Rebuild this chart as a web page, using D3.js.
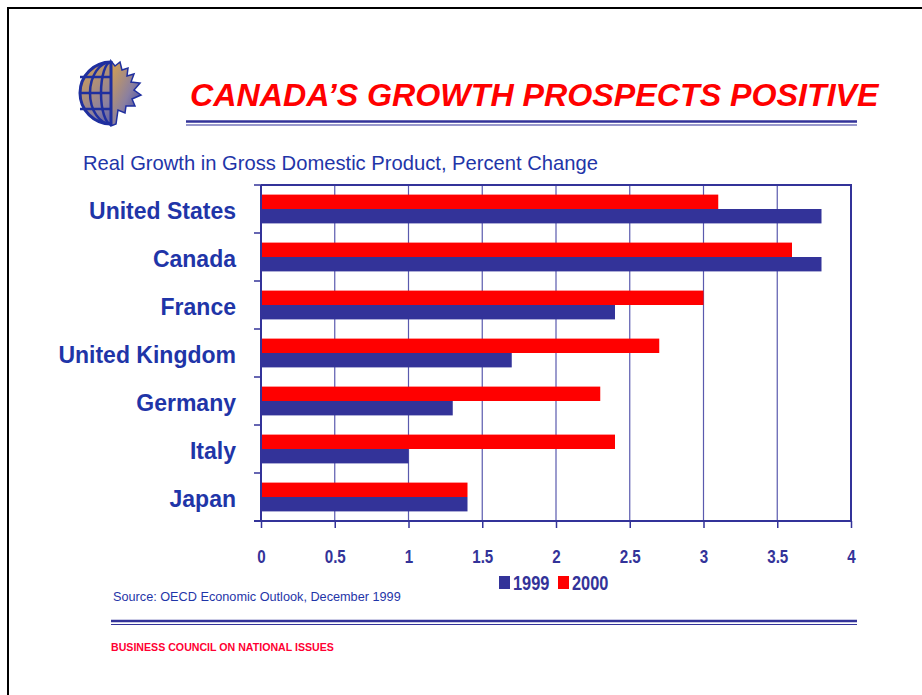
<!DOCTYPE html>
<html>
<head>
<meta charset="utf-8">
<script src="https://cdn.jsdelivr.net/npm/d3@7"></script>
<style>
  html, body { margin: 0; padding: 0; background: #fff; }
  svg { display: block; }
</style>
</head>
<body>
<svg id="chart" width="922" height="695"></svg>
<script>
// Real GDP growth, percent change
const countries = ["United States", "Canada", "France", "United Kingdom", "Germany", "Italy", "Japan"];
const growth1999 = [3.8, 3.8, 2.4, 1.7, 1.3, 1.0, 1.4];
const growth2000 = [3.1, 3.6, 3.0, 2.7, 2.3, 2.4, 1.4];
const seriesNames = ["1999", "2000"];
const xTicks = [0, 0.5, 1, 1.5, 2, 2.5, 3, 3.5, 4];

const BLUE = "#333399";
const RED = "#ff0000";
const TEXT_BLUE = "#1f35a8";
const SANS = "'Liberation Sans', Arial, Helvetica, sans-serif";
const NARROW_SCALE = "scale(0.82,1)"; // condensed look for axis and legend text

const svg = d3.select("#chart");

// Slide frame
svg.append("path")
  .attr("d", "M8,700 L8,8 L930,8")
  .attr("fill", "none").attr("stroke", "#000").attr("stroke-width", 2);

// ---- Logo: globe with half maple leaf ----
const defs = svg.append("defs");
const grad = defs.append("linearGradient").attr("id", "logoGrad")
  .attr("x1", "0").attr("y1", "0").attr("x2", "1").attr("y2", "1");
grad.append("stop").attr("offset", "0%").attr("stop-color", "#d9a24a");
grad.append("stop").attr("offset", "55%").attr("stop-color", "#8a7fa0");
grad.append("stop").attr("offset", "100%").attr("stop-color", "#2b3aa8");

const logo = svg.append("g").attr("transform", "translate(111,93)");
defs.append("clipPath").attr("id", "leftHalf")
  .append("rect").attr("x", -40).attr("y", -40).attr("width", 40).attr("height", 80);
// maple leaf half (right side)
logo.append("path")
  .attr("d", "M0,-32 L4,-27 L9,-31 L11,-23 L17,-25 L16,-17 L23,-19 L20,-11 L29,-10 L23,-3 L30,2 L21,6 L24,13 L15,13 L14,20 L7,17 L5,31 L0,33 Z")
  .attr("fill", "url(#logoGrad)").attr("stroke", "#1f2f9f").attr("stroke-width", 1.5);
// globe left half
const globe = logo.append("g").attr("clip-path", "url(#leftHalf)");
globe.append("circle").attr("r", 31).attr("fill", "url(#logoGrad)")
  .attr("stroke", "#1f2f9f").attr("stroke-width", 3);
[10, 21].forEach(rx => globe.append("ellipse").attr("rx", rx).attr("ry", 31)
  .attr("fill", "none").attr("stroke", "#1f2f9f").attr("stroke-width", 2.5));
[-16, 0, 16].forEach(yy => globe.append("line")
  .attr("x1", -31).attr("x2", 0).attr("y1", yy).attr("y2", yy)
  .attr("stroke", "#1f2f9f").attr("stroke-width", 2.5));
logo.append("line").attr("x1", 0).attr("x2", 0).attr("y1", -32).attr("y2", 33)
  .attr("stroke", "#1f2f9f").attr("stroke-width", 3);

// ---- Title ----
svg.append("text")
  .attr("x", 190).attr("y", 106)
  .attr("font-family", SANS).attr("font-size", 32.2)
  .attr("font-weight", "bold").attr("font-style", "italic")
  .attr("fill", RED)
  .text("CANADA\u2019S GROWTH PROSPECTS POSITIVE");

// double rule under title and above footer
function doubleRule(x1, x2, yy) {
  svg.append("line").attr("x1", x1).attr("x2", x2).attr("y1", yy).attr("y2", yy)
    .attr("stroke", BLUE).attr("stroke-width", 2.5);
  svg.append("line").attr("x1", x1).attr("x2", x2).attr("y1", yy + 3.5).attr("y2", yy + 3.5)
    .attr("stroke", BLUE).attr("stroke-width", 1);
}
doubleRule(186, 857, 121.5);
doubleRule(111, 857, 621);

// subtitle
svg.append("text")
  .attr("x", 83).attr("y", 170)
  .attr("font-family", SANS).attr("font-size", 20.2)
  .attr("fill", TEXT_BLUE)
  .text("Real Growth in Gross Domestic Product, Percent Change");

// ---- Chart ----
const plot = { left: 261, right: 851, top: 185, bottom: 521 };

const x = d3.scaleLinear().domain([0, 4]).range([plot.left, plot.right]);
const y = d3.scaleBand().domain(countries).range([plot.top, plot.bottom])
  .paddingInner(0.4).paddingOuter(0.2);
const ySeries = d3.scaleBand().domain(seriesNames.slice().reverse()).range([0, y.bandwidth()]);

const g = svg.append("g");

// vertical gridlines
g.append("g").selectAll("line")
  .data(xTicks.filter(t => t > 0 && t < 4))
  .join("line")
  .attr("x1", d => x(d)).attr("x2", d => x(d))
  .attr("y1", plot.top).attr("y2", plot.bottom)
  .attr("stroke", "#5a5aae").attr("stroke-width", 1.2);

// plot frame top and right
g.append("path")
  .attr("d", `M${plot.left},${plot.top} L${plot.right},${plot.top} L${plot.right},${plot.bottom}`)
  .attr("fill", "none").attr("stroke", BLUE).attr("stroke-width", 2);

// bars
const rows = countries.map((c, i) => ({ country: c, values: [
  { series: "1999", value: growth1999[i], color: BLUE },
  { series: "2000", value: growth2000[i], color: RED }
]}));

const rowG = g.append("g").selectAll("g").data(rows).join("g")
  .attr("transform", d => `translate(0,${y(d.country)})`);
rowG.selectAll("rect").data(d => d.values).join("rect")
  .attr("x", x(0))
  .attr("y", d => ySeries(d.series))
  .attr("width", d => x(d.value) - x(0))
  .attr("height", ySeries.bandwidth())
  .attr("fill", d => d.color);

// left axis with tick marks at band boundaries
const bandEdges = d3.range(countries.length).map(i => plot.top + i * (plot.bottom - plot.top) / countries.length);
g.append("g").selectAll("line").data(bandEdges).join("line")
  .attr("x1", plot.left - 7).attr("x2", plot.left)
  .attr("y1", d => d).attr("y2", d => d)
  .attr("stroke", BLUE).attr("stroke-width", 1.5);
g.append("line")
  .attr("x1", plot.left).attr("x2", plot.left)
  .attr("y1", plot.top).attr("y2", plot.bottom)
  .attr("stroke", BLUE).attr("stroke-width", 2);

// category labels
g.append("g").selectAll("text").data(countries).join("text")
  .attr("x", 236)
  .attr("y", d => y(d) + y.bandwidth() / 2 + 9.5)
  .attr("text-anchor", "end")
  .attr("font-family", SANS).attr("font-size", 23).attr("font-weight", "bold")
  .attr("fill", TEXT_BLUE)
  .text(d => d);

// bottom axis
const xAxis = d3.axisBottom(x).tickValues(xTicks).tickSize(7).tickPadding(22)
  .tickFormat(d3.format("~g"));
const axG = svg.append("g").attr("transform", `translate(0,${plot.bottom})`).call(xAxis);
axG.select(".domain").attr("stroke", BLUE).attr("stroke-width", 2)
  .attr("d", `M${plot.left - 7},0H${plot.right}`);
axG.selectAll(".tick line").attr("stroke", BLUE).attr("stroke-width", 1.5);
axG.selectAll(".tick text")
  .attr("font-family", SANS).attr("font-size", 18.5).attr("font-weight", "bold")
  .attr("transform", NARROW_SCALE)
  .attr("fill", BLUE);

// legend
const legend = svg.append("g").attr("transform", "translate(499,576)");
const legendItems = [
  { name: seriesNames[0], color: BLUE, x: 0 },
  { name: seriesNames[1], color: RED, x: 59 }
];
const li = legend.selectAll("g").data(legendItems).join("g")
  .attr("transform", d => `translate(${d.x},0)`);
li.append("rect").attr("width", 11).attr("height", 13).attr("fill", d => d.color);
li.append("text")
  .attr("transform", `translate(14,14) ${NARROW_SCALE}`)
  .attr("font-family", SANS).attr("font-size", 20).attr("font-weight", "bold")
  .attr("fill", BLUE).text(d => d.name);

// source note
svg.append("text")
  .attr("x", 113).attr("y", 601)
  .attr("font-family", SANS).attr("font-size", 12.7)
  .attr("fill", TEXT_BLUE)
  .text("Source: OECD Economic Outlook, December 1999");

// footer
svg.append("text")
  .attr("transform", "translate(111,651) scale(0.9,1)")
  .attr("font-family", SANS).attr("font-size", 11.8).attr("font-weight", "bold")
  .attr("fill", "#ff0033")
  .text("BUSINESS COUNCIL ON NATIONAL ISSUES");
</script>
</body>
</html>
